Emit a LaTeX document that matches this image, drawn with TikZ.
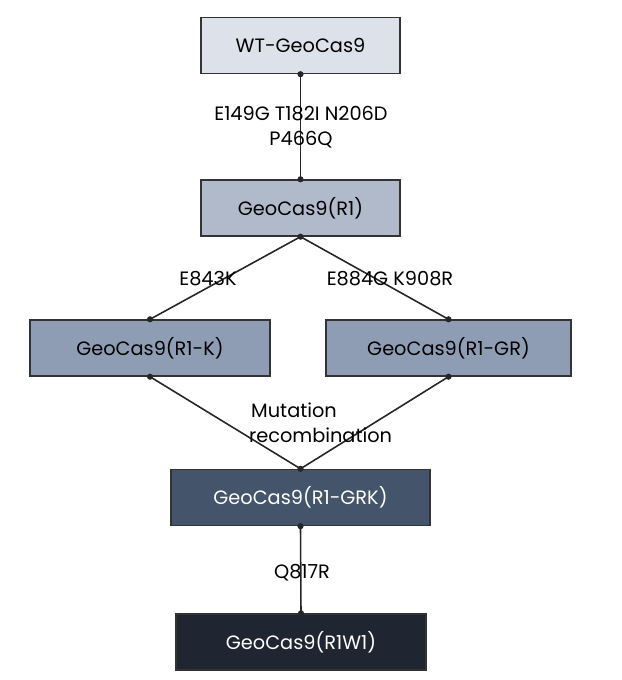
\documentclass[tikz,border=0pt]{standalone}
\usepackage{fontspec}
\setmainfont{Poppins}
\begin{document}
\begin{tikzpicture}[x=0.02cm,y=-0.02cm,
 box/.style={draw=black!80,line width=0.8pt,minimum height=56*0.02cm,inner sep=0pt,font=\fontsize{11}{13}\selectfont},
 lab/.style={font=\fontsize{11}{14}\selectfont,inner sep=1pt,align=center},
 con/.style={line width=0.9pt,black!85},
 dot/.style={circle,fill=black!85,inner sep=0pt,minimum size=3.5pt}]
\useasboundingbox[fill=white] (0,0) rectangle (622,680);
\node[box,fill={rgb,255:red,221;green,225;blue,234},minimum width=199*0.02cm] (wt) at (300.5,45.5) {WT-GeoCas9};
\node[box,fill={rgb,255:red,176;green,186;blue,203},minimum width=199*0.02cm] (r1) at (300.5,208) {GeoCas9(R1)};
\node[box,fill={rgb,255:red,142;green,157;blue,180},minimum width=240*0.02cm] (rk) at (150,348) {GeoCas9(R1-K)};
\node[box,fill={rgb,255:red,142;green,157;blue,180},minimum width=245*0.02cm] (rgr) at (448.5,348) {GeoCas9(R1-GR)};
\node[box,fill={rgb,255:red,68;green,84;blue,107},text=white,minimum width=259*0.02cm] (grk) at (300.5,497.5) {GeoCas9(R1-GRK)};
\node[box,fill={rgb,255:red,31;green,38;blue,50},text=white,minimum width=250*0.02cm] (w1) at (301,642) {GeoCas9(R1W1)};
\draw[con] (wt.south) -- (r1.north);
\draw[con] (r1.south) -- (rk.north);
\draw[con] (r1.south) -- (rgr.north);
\draw[con] (rk.south) -- (grk.north);
\draw[con] (rgr.south) -- (grk.north);
\draw[con] (grk.south) -- (w1.north);
\foreach \n in {wt.south,r1.north,r1.south,rk.north,rgr.north,rk.south,rgr.south,grk.north,grk.south,w1.north}
  \node[dot] at (\n) {};
\node[lab] (l1) at (301,127) {E149G T182I N206D\\P466Q};
\node[lab] (l2) at (208,279) {E843K};
\node[lab] (l3) at (390,279) {E884G K908R};
\node[lab,align=left,anchor=west] (l4) at (247,423) {\hspace*{3\pgflinewidth}Mutation\\recombination};
\node[lab] (l5) at (302,573) {Q817R};
\end{tikzpicture}
\end{document}
